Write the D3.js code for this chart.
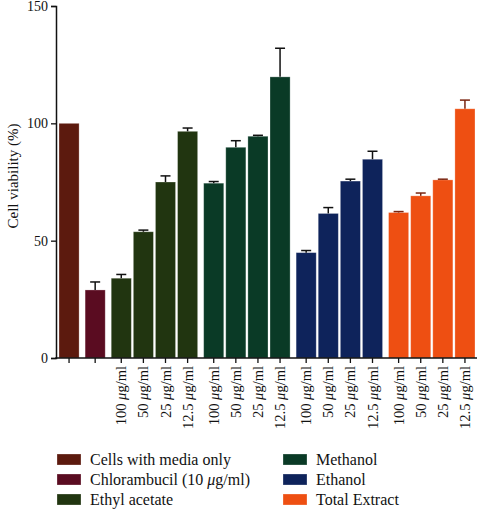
<!DOCTYPE html>
<html><head><meta charset="utf-8">
<script src="https://cdn.jsdelivr.net/npm/d3@7"></script>
<style>body{margin:0;background:#fff}svg{display:block}text{font-family:"Liberation Serif","Times New Roman",serif;fill:#111}</style>
</head><body><svg id="c" width="478" height="512"></svg>
<script>
const groups = ["Cells with media only","Chlorambucil (10 μg/ml)","Ethyl acetate","Methanol","Ethanol","Total Extract"];
const groupColors = ["#5c1a0e","#5a0c21","#213510","#0a3a26","#0e235b","#ee4f12"];
const errColors = ["#111","#111","#111","#111","#111","#7a2510"];
const barGroup = [0,1,2,2,2,2,3,3,3,3,4,4,4,4,5,5,5,5];
const barLabels = ["","","100","50","25","12.5","100","50","25","12.5","100","50","25","12.5","100","50","25","12.5"];
const values = [100,29,34,53.8,75,96.6,74.5,89.8,94.5,119.8,44.9,61.6,75.4,84.7,62,69.1,75.9,106.2];
const errors = [0,3.4,1.6,0.7,2.6,1.4,0.7,2.8,0.4,12.2,0.9,2.5,0.8,3.4,0.4,1.2,0.3,3.7];
const yTicks = [0,50,100,150];

const svg = d3.select("#c");
const y = d3.scaleLinear().domain([0,150]).range([358,6]);
const idx = d3.range(values.length);
const xb = d3.scaleBand().domain(idx).range([59, 59 + values.length*22]).paddingInner(2/22).paddingOuter(0);
const gapPx = 4;
const bx = i => xb(i) + barGroup[i]*gapPx;
const bw = xb.bandwidth();

// bars
svg.append("g").selectAll("rect").data(idx).join("rect")
  .attr("x", i => bx(i)).attr("width", bw)
  .attr("y", i => y(values[i])).attr("height", i => y(0) - y(values[i]))
  .attr("fill", i => groupColors[barGroup[i]])
  .attr("stroke", "#ffffff").attr("stroke-opacity", 0.35).attr("stroke-width", 0.8);

// error bars (upper only)
const eg = svg.append("g");
idx.filter(i => errors[i] > 0).forEach(i => {
  const cx = bx(i) + bw/2;
  const c = errColors[barGroup[i]];
  eg.append("line").attr("x1", cx).attr("x2", cx).attr("y1", y(values[i])).attr("y2", y(values[i]+errors[i])).attr("stroke", c).attr("stroke-width", 1.5);
  eg.append("line").attr("x1", cx-5).attr("x2", cx+5).attr("y1", y(values[i]+errors[i])).attr("y2", y(values[i]+errors[i])).attr("stroke", c).attr("stroke-width", 1.5);
});

// y axis
const ya = svg.append("g").attr("transform","translate(56,0)")
  .call(d3.axisLeft(y).tickValues(yTicks).tickSize(5).tickPadding(3));
ya.select(".domain").attr("stroke","#111").attr("stroke-width",1.5);
ya.selectAll(".tick line").attr("stroke","#111").attr("stroke-width",1.3);
ya.selectAll(".tick text").style("font-family","'Liberation Serif',serif").style("font-size","14px").attr("fill","#111");

// x axis
const xa = svg.append("g");
xa.append("line").attr("x1",55.25).attr("x2",477).attr("y1",358).attr("y2",358).attr("stroke","#111").attr("stroke-width",1.5);
idx.forEach(i => {
  const cx = bx(i) + bw/2;
  xa.append("line").attr("x1",cx).attr("x2",cx).attr("y1",358).attr("y2",363).attr("stroke","#111").attr("stroke-width",1.3);
  if (barLabels[i]) {
    const t = xa.append("text").attr("transform",`translate(${cx},366) rotate(-90)`)
      .attr("text-anchor","end").attr("dy","0.35em").style("font-size","14.5px");
    t.append("tspan").text(barLabels[i] + " ");
    t.append("tspan").attr("font-style","italic").text("μ");
    t.append("tspan").text("g/ml");
  }
});

// y label
svg.append("text").attr("transform","translate(13,176) rotate(-90)").attr("text-anchor","middle")
  .attr("dy","0.35em").style("font-size","15px").text("Cell viability (%)");

// legend
const lg = svg.append("g");
groups.forEach((g,k) => {
  const col = Math.floor(k/3), row = k%3;
  const lx = col===0 ? 57 : 283, ly = 454 + row*20;
  lg.append("rect").attr("x",lx).attr("y",ly).attr("width",24).attr("height",11).attr("fill",groupColors[k])
    .attr("stroke","#fff").attr("stroke-opacity",0.35).attr("stroke-width",0.8);
  const t = lg.append("text").attr("x",lx+33).attr("y",ly+5.5).attr("dy","0.35em").style("font-size","16px");
  if (g.includes("μ")) {
    const parts = g.split("μ");
    t.append("tspan").text(parts[0]);
    t.append("tspan").attr("font-style","italic").text("μ");
    t.append("tspan").text(parts[1]);
  } else t.text(g);
});
</script></body></html>
